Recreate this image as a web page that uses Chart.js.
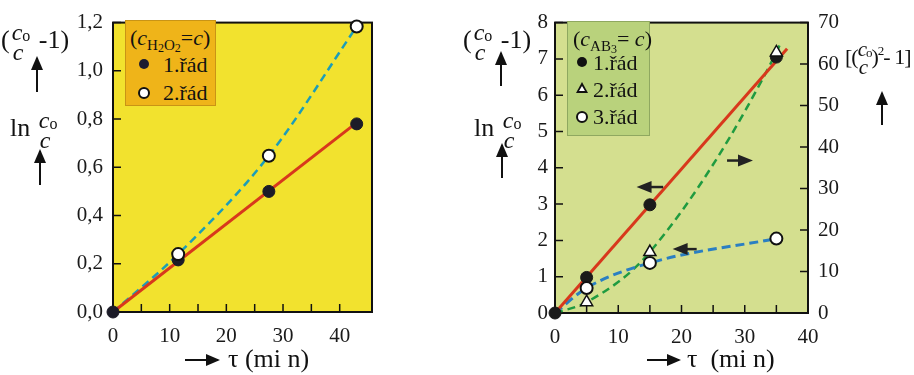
<!DOCTYPE html>
<html>
<head>
<meta charset="utf-8">
<script src="https://cdn.jsdelivr.net/npm/chart.js@4.4.1/dist/chart.umd.min.js"></script>
<style>
body { margin: 0; width: 914px; height: 375px; background: #fff; position: relative; overflow: hidden; font-family: "Liberation Serif", "Times New Roman", "DejaVu Serif", serif; color: #111; }
canvas { position: absolute; top: 0; }
#left { left: 0; }
#right { left: 450px; }
.t { position: absolute; white-space: nowrap; font-size: 26px; line-height: 1; }
.fr { display: inline-flex; flex-direction: column; align-items: flex-start; vertical-align: middle; font-style: italic; font-size: 24px; line-height: 17px; margin: 0 2px; }
.fr sub { font-style: normal; font-size: 16px; vertical-align: -1px; }
.fr .d { padding-left: 1px; }
.up { position: absolute; width: 2px; background: #111; }
.up:before { content: ""; position: absolute; left: -5px; top: -2px; border-left: 6px solid transparent; border-right: 6px solid transparent; border-bottom: 14px solid #111; }
.ra { position: absolute; height: 2px; background: #111; }
.ra:after { content: ""; position: absolute; right: -2px; top: -5px; border-top: 6px solid transparent; border-bottom: 6px solid transparent; border-left: 14px solid #111; }
.leg { position: absolute; font-size: 22px; line-height: 1; }
.leg .row { position: absolute; white-space: nowrap; }
.mk { position: absolute; }
i { font-style: italic; }
</style>
</head>
<body>
<canvas id="left" width="450" height="375"></canvas>
<canvas id="right" width="464" height="375"></canvas>

<!-- left chart axis titles -->
<div class="t" style="left:1px;top:24px">(<span class="fr"><span><i>c</i><sub>o</sub></span><span class="d">c</span></span> -1)</div>
<div class="up" style="left:36px;top:58px;height:34px"></div>
<div class="t" style="left:10px;top:112px">ln <span class="fr"><span><i>c</i><sub>o</sub></span><span class="d">c</span></span></div>
<div class="up" style="left:39px;top:151px;height:34px"></div>
<div class="ra" style="left:185px;top:359px;width:33px"></div>
<div class="t" style="left:228px;top:346px">τ (mi n)</div>

<!-- right chart axis titles -->
<div class="t" style="left:463px;top:24px">(<span class="fr"><span><i>c</i><sub>o</sub></span><span class="d">c</span></span> -1)</div>
<div class="up" style="left:500px;top:53px;height:33px"></div>
<div class="t" style="left:474px;top:112px">ln <span class="fr"><span><i>c</i><sub>o</sub></span><span class="d">c</span></span></div>
<div class="up" style="left:501px;top:145px;height:33px"></div>
<div class="t" style="left:845px;top:42px;font-size:22px;letter-spacing:-1px">[(<span class="fr" style="font-size:21px;line-height:15px;margin:0"><span><i>c</i><sub style="font-size:13px">o</sub></span><span class="d">c</span></span>)<sup style="font-size:13px">2</sup>- 1]</div>
<div class="up" style="left:881px;top:93px;height:32px"></div>
<div class="ra" style="left:647px;top:359px;width:32px"></div>
<div class="t" style="left:687px;top:346px">τ&nbsp;&nbsp;(mi n)</div>

<!-- legends -->
<div class="leg" style="left:125px;top:20px;width:89px;height:84px;background:#efb419;border:1px solid #c99415">
  <div class="row" style="left:4px;top:6px">(<i>c</i><span style="font-size:15px;vertical-align:-5px">H<span style="font-size:12px;vertical-align:-2px">2</span>O<span style="font-size:12px;vertical-align:-2px">2</span></span>=<i>c</i>)</div>
  <div class="mk" style="left:13px;top:38px;width:10px;height:10px;border-radius:50%;background:#1c1c30"></div>
  <div class="row" style="left:37px;top:33px">1.řád</div>
  <div class="mk" style="left:12px;top:66px;width:8px;height:8px;border-radius:50%;background:#fff;border:2px solid #111"></div>
  <div class="row" style="left:37px;top:61px">2.řád</div>
</div>
<div class="leg" style="left:567px;top:21px;width:81px;height:113px;background:#b9d27c;border:1px solid #8fa860">
  <div class="row" style="left:5px;top:6px">(<i>c</i><span style="font-size:15px;vertical-align:-5px">AB<span style="font-size:12px;vertical-align:-2px">3</span></span>= <i>c</i>)</div>
  <div class="mk" style="left:9px;top:35px;width:10px;height:10px;border-radius:50%;background:#111"></div>
  <div class="row" style="left:25px;top:30px">1.řád</div>
  <div class="mk" style="left:8px;top:60px;width:0;height:0;border-left:6px solid transparent;border-right:6px solid transparent;border-bottom:11px solid #111"></div>
  <div class="mk" style="left:11px;top:64px;width:0;height:0;border-left:3px solid transparent;border-right:3px solid transparent;border-bottom:5px solid #fff"></div>
  <div class="row" style="left:25px;top:57px">2.řád</div>
  <div class="mk" style="left:8px;top:89px;width:8px;height:8px;border-radius:50%;background:#fff;border:2px solid #111"></div>
  <div class="row" style="left:25px;top:84px">3.řád</div>
</div>

<script>
// left chart: H2O2
const leftTau = [0, 11.5, 27.5, 43];
const leftFirst = [0, 0.216, 0.5, 0.78];
const leftSecondTau = [11.5, 27.5, 43];
const leftSecond = [0.24, 0.648, 1.184];
const leftSecondCurveTau = [0, 11.5, 27.5, 43];
const leftSecondCurve = [0, 0.24, 0.648, 1.184];
const leftFitTau = [0, 43];
const leftFitVal = [0, 0.785];
const leftXTicks = [0, 5, 10, 15, 20, 25, 30, 35, 40];
const leftYTicks = [0, 0.2, 0.4, 0.6, 0.8, 1.0, 1.2];

// right chart: AB3
const rightTau = [0, 5, 15, 35];
const rightFirst = [0, 0.98, 2.98, 7.05];
const rightFitTau = [0, 36.7];
const rightFitVal = [0, 7.28];
const rightSecondTau = [5, 15, 35];
const rightSecond = [2.6, 14.7, 62.8];
const rightSecondCurveTau = [0, 5, 15, 35, 35.7];
const rightSecondCurve = [0, 2.6, 14.7, 62.8, 65.3];
const rightThirdTau = [5, 15, 35];
const rightThird = [0.69, 1.38, 2.05];
const rightThirdCurveTau = [0, 5, 15, 35];
const rightThirdCurve = [0, 0.69, 1.38, 2.05];
const rightXTicks = [0, 5, 10, 15, 20, 25, 30, 35, 40];
const rightYTicks = [0, 1, 2, 3, 4, 5, 6, 7, 8];
const rightY2Ticks = [0, 10, 20, 30, 40, 50, 60, 70];

// arrows on the right chart (tail, head, level on left axis)
const arrowTail = [17.1, 22.4, 27.2];
const arrowHead = [12.9, 18.6, 31.3];
const arrowLevel = [3.47, 1.76, 4.2];

const pts = (xs, ys) => xs.map((x, i) => ({ x, y: ys[i] }));
const tickFont = { family: '"Liberation Serif", "Times New Roman", "DejaVu Serif", serif', size: 21 };

const frame = {
    id: 'frame',
    beforeDraw(chart, args, opts) {
        const { ctx, chartArea: a } = chart;
        ctx.save();
        ctx.fillStyle = opts.bg;
        ctx.fillRect(a.left, a.top, a.right - a.left, a.bottom - a.top);
        ctx.restore();
    },
    beforeDatasetsDraw(chart) {
        const { ctx, chartArea: a, scales } = chart;
        ctx.save();
        ctx.strokeStyle = '#111';
        ctx.lineWidth = 2;
        ctx.strokeRect(a.left, a.top, a.right - a.left, a.bottom - a.top);
        ctx.lineWidth = 1.5;
        ctx.beginPath();
        for (const t of scales.x.ticks) {
            const p = scales.x.getPixelForValue(t.value);
            ctx.moveTo(p, a.bottom);
            ctx.lineTo(p, a.bottom - 8);
        }
        for (const t of scales.y.ticks) {
            const p = scales.y.getPixelForValue(t.value);
            ctx.moveTo(a.left, p);
            ctx.lineTo(a.left + 8, p);
        }
        if (scales.y2) {
            for (const t of scales.y2.ticks) {
                const p = scales.y2.getPixelForValue(t.value);
                ctx.moveTo(a.right, p);
                ctx.lineTo(a.right - 8, p);
            }
        }
        ctx.stroke();
        ctx.restore();
    }
};

const arrows = {
    id: 'arrows',
    afterDatasetsDraw(chart) {
        const { ctx, scales } = chart;
        ctx.save();
        ctx.strokeStyle = '#222';
        ctx.fillStyle = '#222';
        ctx.lineWidth = 2.5;
        arrowTail.forEach((tail, i) => {
            const x1 = scales.x.getPixelForValue(tail);
            const x2 = scales.x.getPixelForValue(arrowHead[i]);
            const y = scales.y.getPixelForValue(arrowLevel[i]);
            const dir = Math.sign(x2 - x1);
            ctx.beginPath();
            ctx.moveTo(x1, y);
            ctx.lineTo(x2 - dir * 10, y);
            ctx.stroke();
            ctx.beginPath();
            ctx.moveTo(x2, y);
            ctx.lineTo(x2 - dir * 15, y - 6);
            ctx.lineTo(x2 - dir * 15, y + 6);
            ctx.closePath();
            ctx.fill();
        });
        ctx.restore();
    }
};

const axis = (min, max, ticks, fit, label, pad) => ({
    type: 'linear',
    min, max,
    grid: { display: false, drawTicks: false },
    border: { display: false },
    ticks: { font: tickFont, color: '#1a1a1a', padding: pad, maxRotation: 0, autoSkip: false, callback: label },
    afterBuildTicks: s => { s.ticks = ticks.map(v => ({ value: v })); },
    afterFit: fit
});

const xLabel = v => (v % 10 === 0 ? String(v) : '');

new Chart(document.getElementById('left'), {
    type: 'scatter',
    data: {
        datasets: [
            { data: pts(leftSecondTau, leftSecond), pointRadius: 6, pointBackgroundColor: '#fff', pointBorderColor: '#111', pointBorderWidth: 2, showLine: false, order: 0 },
            { data: pts(leftTau, leftFirst), pointRadius: 6, pointBackgroundColor: '#1c1c28', pointBorderColor: '#1c1c28', showLine: false, order: 1 },
            { data: pts(leftFitTau, leftFitVal), showLine: true, borderColor: '#d8381c', borderWidth: 3, pointRadius: 0, order: 2 },
            { data: pts(leftSecondCurveTau, leftSecondCurve), showLine: true, borderColor: '#1c9db8', borderWidth: 2.5, borderDash: [8, 5], pointRadius: 0, cubicInterpolationMode: 'monotone', order: 3 }
        ]
    },
    options: {
        responsive: false,
        animation: false,
        clip: false,
        layout: { padding: { top: 12, right: 78, left: 0, bottom: 0 } },
        plugins: { legend: { display: false }, tooltip: { enabled: false }, frame: { bg: '#f2e22e' } },
        scales: {
            x: axis(0, 45.7, leftXTicks, s => { s.height = 63; }, xLabel, 12),
            y: axis(0, 1.2, leftYTicks, s => { s.width = 113; }, v => v.toFixed(1).replace('.', ','), 10)
        }
    },
    plugins: [frame]
});

const rightY2 = axis(0, 70, rightY2Ticks, s => { s.width = 106; }, v => String(v), 10);
rightY2.position = 'right';

new Chart(document.getElementById('right'), {
    type: 'scatter',
    data: {
        datasets: [
            { data: pts(rightThirdTau, rightThird), yAxisID: 'y', pointRadius: 6, pointBackgroundColor: '#fff', pointBorderColor: '#111', pointBorderWidth: 2, showLine: false, order: 0 },
            { data: pts(rightSecondTau, rightSecond), yAxisID: 'y2', pointStyle: 'triangle', pointRadius: 7, pointBackgroundColor: '#fff', pointBorderColor: '#111', pointBorderWidth: 1.5, showLine: false, order: 1 },
            { data: pts(rightTau, rightFirst), yAxisID: 'y', pointRadius: 6, pointBackgroundColor: '#1a1a1a', pointBorderColor: '#1a1a1a', showLine: false, order: 2 },
            { data: pts(rightFitTau, rightFitVal), yAxisID: 'y', showLine: true, borderColor: '#d8381c', borderWidth: 3, pointRadius: 0, order: 3 },
            { data: pts(rightThirdCurveTau, rightThirdCurve), yAxisID: 'y', showLine: true, borderColor: '#2a7fc2', borderWidth: 3, borderDash: [9, 5], pointRadius: 0, cubicInterpolationMode: 'monotone', order: 4 },
            { data: pts(rightSecondCurveTau, rightSecondCurve), yAxisID: 'y2', showLine: true, borderColor: '#1f9b40', borderWidth: 2.5, borderDash: [8, 5], pointRadius: 0, cubicInterpolationMode: 'monotone', order: 5 }
        ]
    },
    options: {
        responsive: false,
        animation: false,
        clip: false,
        layout: { padding: { top: 12, right: 0, left: 0, bottom: 0 } },
        plugins: { legend: { display: false }, tooltip: { enabled: false }, frame: { bg: '#d4df8f' } },
        scales: {
            x: axis(0, 40, rightXTicks, s => { s.height = 62; }, xLabel, 12),
            y: axis(0, 8, rightYTicks, s => { s.width = 105; }, v => String(v), 7),
            y2: rightY2
        }
    },
    plugins: [frame, arrows]
});
</script>
</body>
</html>
